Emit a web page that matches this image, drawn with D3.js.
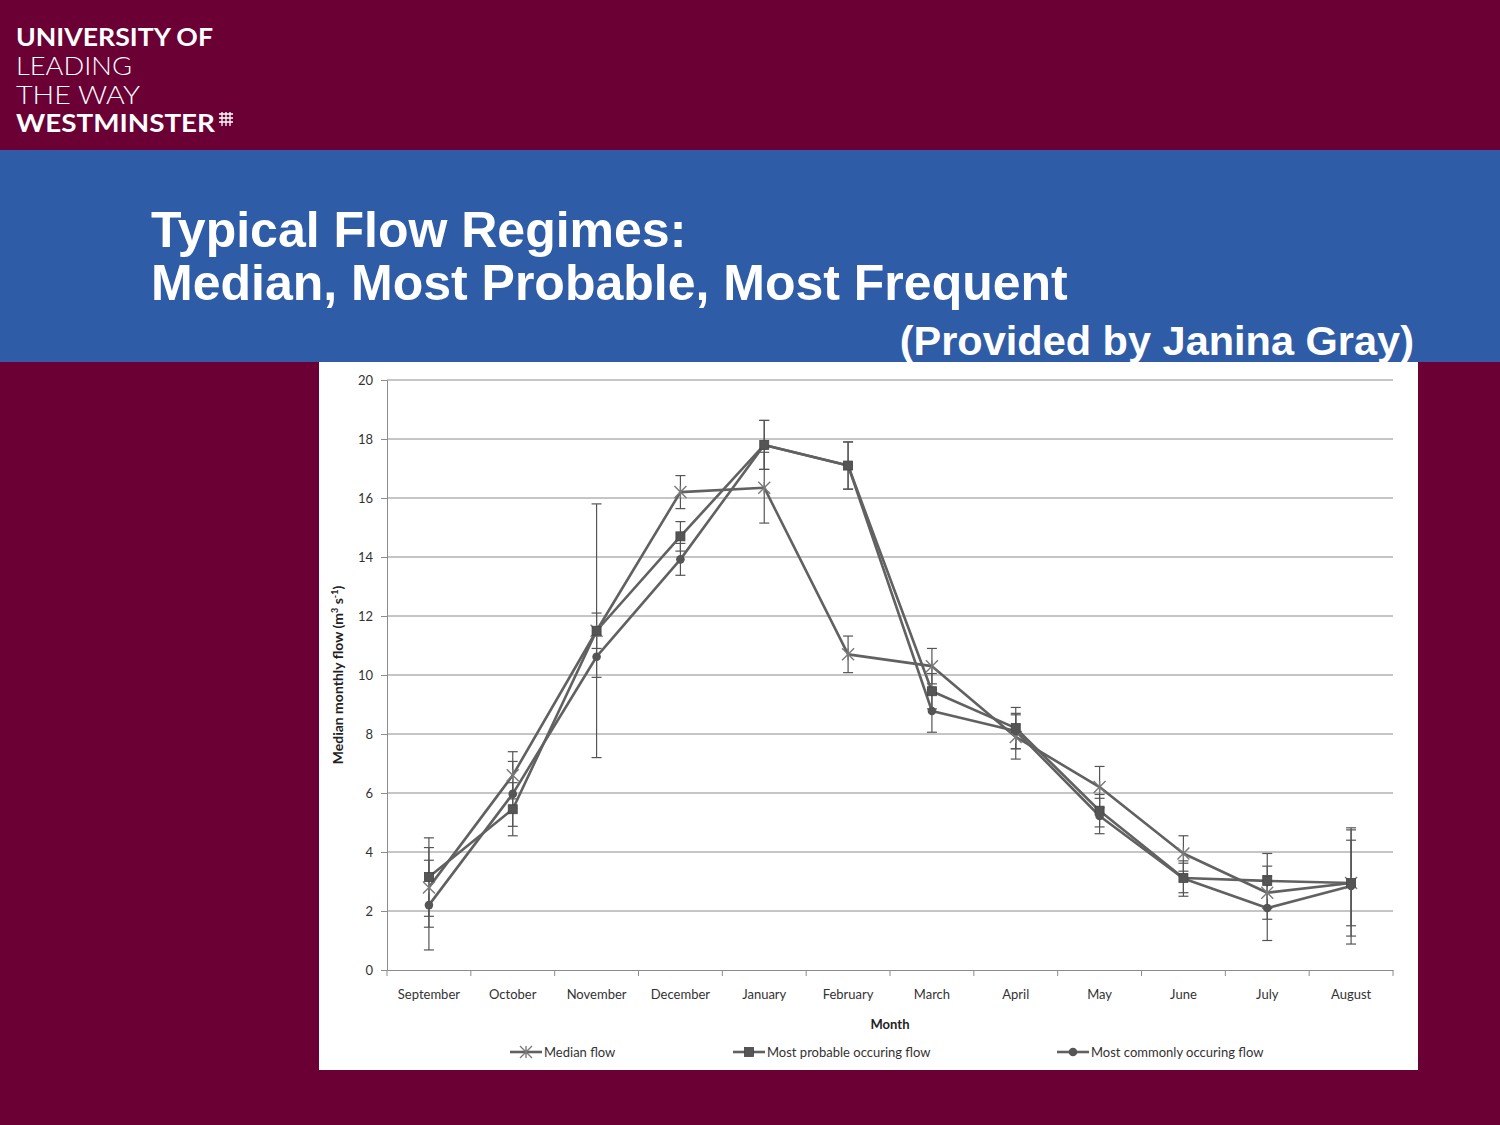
<!DOCTYPE html>
<html>
<head>
<meta charset="utf-8">
<script src="https://cdn.jsdelivr.net/npm/d3@7"></script>
<style>
  body { margin: 0; background: #6a0034; }
  svg { display: block; }
</style>
</head>
<body>
<div id="chart"></div>
<script>
// chart data
const months = ["September", "October", "November", "December", "January", "February",
                "March", "April", "May", "June", "July", "August"];
const medianFlow   = [2.8, 6.6, 11.5, 16.2, 16.35, 10.7, 10.3, 7.9, 6.2, 3.95, 2.62, 2.95];
const medianErr    = [1.35, 0.8, 4.3, 0.56, 1.2, 0.62, 0.6, 0.75, 0.7, 0.6, 0.9, 1.45];
const probableFlow = [3.15, 5.45, 11.5, 14.7, 17.8, 17.1, 9.45, 8.2, 5.4, 3.12, 3.02, 2.95];
const probableErr  = [1.33, 0.9, 0.6, 0.5, 0.83, 0.8, 0.6, 0.7, 0.55, 0.5, 0.93, 1.8];
const commonFlow   = [2.2, 5.97, 10.62, 13.92, 17.8, 17.1, 8.78, 8.1, 5.22, 3.1, 2.1, 2.85];
const commonErr    = [1.52, 1.1, 0.7, 0.54, 0.83, 0.8, 0.72, 0.6, 0.6, 0.6, 1.1, 1.97];
const yTicks = [0, 2, 4, 6, 8, 10, 12, 14, 16, 18, 20];

const series = [
  { name: "Median flow", values: medianFlow, err: medianErr, marker: "star" },
  { name: "Most probable occuring flow", values: probableFlow, err: probableErr, marker: "square" },
  { name: "Most commonly occuring flow", values: commonFlow, err: commonErr, marker: "circle" }
];

const W = 1500, H = 1125;
const svg = d3.select("#chart").append("svg")
    .attr("width", W)
    .attr("height", H);

// slide background
svg.append("rect").attr("width", W).attr("height", H).attr("fill", "#6a0034");
svg.append("rect").attr("x", 0).attr("y", 150).attr("width", W).attr("height", 212).attr("fill", "#2e5ca6");

// logo lines (tightly set, stretched to the logo's widths)
const logoLines = [
  { t: "UNIVERSITY OF", w: "bold", y: 46, len: 197 },
  { t: "LEADING", w: "300", y: 75, len: 116 },
  { t: "THE WAY", w: "300", y: 104, len: 124 },
  { t: "WESTMINSTER", w: "bold", y: 132, len: 199 }
];
svg.append("g").attr("fill", "#fff")
    .style("font-family", "Lato, 'Open Sans', sans-serif")
  .selectAll("text").data(logoLines).enter().append("text")
    .attr("x", 16).attr("y", d => d.y)
    .attr("textLength", d => d.len).attr("lengthAdjust", "spacingAndGlyphs")
    .style("font-size", "25px").style("font-weight", d => d.w)
    .text(d => d.t);
// small portcullis mark
const pm = svg.append("g").attr("transform", "translate(219,112)")
    .attr("stroke", "#fff").attr("stroke-width", 1.3).attr("fill", "none");
pm.append("path").attr("d", "M0,2 H14 M0,6 H14 M0,10 H14 M3,0 V14 M7,0 V14 M11,0 V14");

// title
const title = svg.append("g").attr("fill", "#fff")
    .style("font-family", "'Liberation Sans', Arial, sans-serif").style("font-weight", "bold");
title.append("text").attr("x", 151).attr("y", 247).style("font-size", "50px").text("Typical Flow Regimes:");
title.append("text").attr("x", 151).attr("y", 300).style("font-size", "50px").text("Median, Most Probable, Most Frequent");
title.append("text").attr("x", 1414).attr("y", 355).attr("text-anchor", "end").style("font-size", "41.5px")
    .text("(Provided by Janina Gray)");

// chart panel
svg.append("rect").attr("x", 319).attr("y", 362).attr("width", 1099).attr("height", 708).attr("fill", "#fff");

const margin = { left: 387, right: 1393, top: 380, bottom: 970 };
const x = d3.scaleBand().domain(months).range([margin.left, margin.right]);
const y = d3.scaleLinear().domain([0, 20]).range([margin.bottom, margin.top]);
const cx = d => x(d) + x.bandwidth() / 2;

const chart = svg.append("g").style("font-family", "Lato, 'Open Sans', sans-serif");

// gridlines
chart.selectAll(".grid").data(yTicks.slice(1)).enter().append("line")
    .attr("x1", margin.left).attr("x2", margin.right)
    .attr("y1", d => y(d)).attr("y2", d => y(d))
    .attr("stroke", "#8c8c8c").attr("stroke-width", 1);

// y axis
const yAxis = chart.append("g").attr("transform", `translate(${margin.left},0)`)
    .call(d3.axisLeft(y).tickValues(yTicks).tickSize(6).tickPadding(8));
yAxis.select(".domain").attr("stroke", "#8c8c8c");
yAxis.selectAll(".tick line").attr("stroke", "#8c8c8c");
yAxis.selectAll("text").style("font-size", "13px").attr("fill", "#333").style("font-family", "Lato, sans-serif");

// x axis, ticks between categories
const xAxis = chart.append("g").attr("transform", `translate(0,${margin.bottom})`)
    .call(d3.axisBottom(x).tickSize(0).tickPadding(20));
xAxis.select(".domain").attr("stroke", "#8c8c8c");
xAxis.selectAll("text").style("font-size", "13px").attr("fill", "#333").style("font-family", "Lato, sans-serif");
const sepTicks = months.map(m => x(m)).concat([margin.right]);
xAxis.selectAll(".sep").data(sepTicks).enter().append("line")
    .attr("x1", d => d).attr("x2", d => d).attr("y1", 0).attr("y2", 6)
    .attr("stroke", "#8c8c8c");

// axis titles
chart.append("text").attr("x", 890).attr("y", 1029).attr("text-anchor", "middle")
    .style("font-size", "13px").style("font-weight", "bold").attr("fill", "#222").text("Month");
const yt = chart.append("text").attr("transform", "translate(343,675) rotate(-90)")
    .attr("text-anchor", "middle").style("font-size", "14px").style("font-weight", "bold").attr("fill", "#222");
yt.append("tspan").text("Median monthly flow (m");
yt.append("tspan").attr("baseline-shift", "super").style("font-size", "9px").text("3");
yt.append("tspan").text(" s");
yt.append("tspan").attr("baseline-shift", "super").style("font-size", "9px").text("-1");
yt.append("tspan").text(")");

// error bars
const capW = 5;
series.forEach(s => {
  const g = chart.append("g").attr("stroke", "#555").attr("stroke-width", 1.2);
  months.forEach((m, i) => {
    const hi = y(s.values[i] + s.err[i]), lo = y(s.values[i] - s.err[i]);
    g.append("line").attr("x1", cx(m)).attr("x2", cx(m)).attr("y1", hi).attr("y2", lo);
    g.append("line").attr("x1", cx(m) - capW).attr("x2", cx(m) + capW).attr("y1", hi).attr("y2", hi);
    g.append("line").attr("x1", cx(m) - capW).attr("x2", cx(m) + capW).attr("y1", lo).attr("y2", lo);
  });
});

// lines
const line = d3.line().x((d, i) => cx(months[i])).y(d => y(d));
series.forEach(s => {
  chart.append("path").datum(s.values).attr("d", line)
      .attr("fill", "none").attr("stroke", "#616161").attr("stroke-width", 2.6)
      .attr("stroke-linejoin", "round");
});

function drawMarker(g, type, px, py) {
  if (type === "square") {
    g.append("rect").attr("x", px - 4.5).attr("y", py - 4.5).attr("width", 9).attr("height", 9)
        .attr("fill", "#555").attr("stroke", "#444").attr("stroke-width", 0.8);
  } else if (type === "circle") {
    g.append("circle").attr("cx", px).attr("cy", py).attr("r", 4.3).attr("fill", "#555");
  } else {
    const r = 6;
    g.append("path")
        .attr("d", `M${px - r},${py - r}L${px + r},${py + r}M${px - r},${py + r}L${px + r},${py - r}M${px},${py - r}L${px},${py + r}`)
        .attr("stroke", "#7a7a7a").attr("stroke-width", 1.4).attr("fill", "none");
  }
}

series.forEach(s => {
  const g = chart.append("g");
  s.values.forEach((v, i) => drawMarker(g, s.marker, cx(months[i]), y(v)));
});

// legend
const legendX = [510, 733, 1057];
series.forEach((s, i) => {
  const g = chart.append("g").attr("transform", `translate(${legendX[i]},1052)`);
  g.append("line").attr("x1", 0).attr("x2", 32).attr("y1", 0).attr("y2", 0)
      .attr("stroke", "#616161").attr("stroke-width", 2.6);
  drawMarker(g, s.marker, 16, 0);
  g.append("text").attr("x", 34).attr("y", 4.5).style("font-size", "13px").attr("fill", "#333").text(s.name);
});
</script>
</body>
</html>
